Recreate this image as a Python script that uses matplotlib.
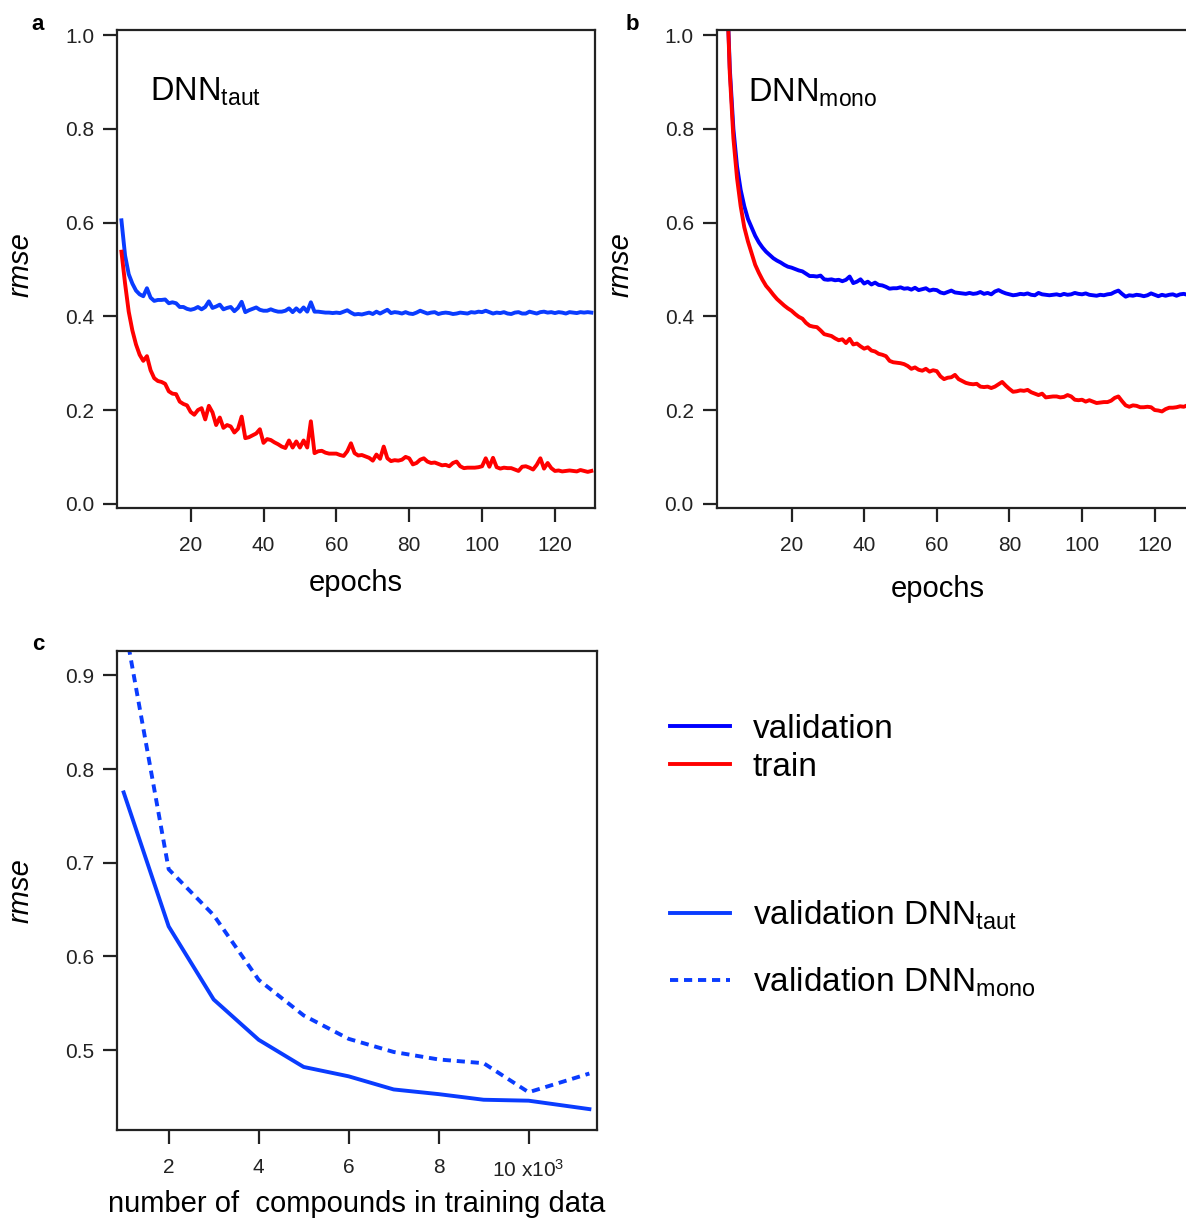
import numpy as np
import matplotlib
matplotlib.use("Agg")
import matplotlib.pyplot as plt
from matplotlib.lines import Line2D

plt.rcParams['font.family'] = ['Liberation Sans', 'DejaVu Sans']
plt.rcParams['mathtext.fontset'] = 'custom'
plt.rcParams['mathtext.rm'] = 'Liberation Sans'
plt.rcParams['mathtext.it'] = 'Liberation Sans:italic'

# ---- data ----
epochs_taut = np.arange(1, 131)
valid_taut = [0.605, 0.53, 0.49, 0.47, 0.455, 0.447, 0.443, 0.46, 0.44, 0.433,
              0.435, 0.435, 0.436, 0.428, 0.43, 0.428, 0.42, 0.42, 0.416, 0.414,
              0.416, 0.42, 0.415, 0.42, 0.432, 0.418, 0.421, 0.425, 0.415, 0.418,
              0.42, 0.411, 0.418, 0.431, 0.409, 0.413, 0.416, 0.419, 0.414, 0.412,
              0.412, 0.415, 0.412, 0.41, 0.41, 0.412, 0.417, 0.409, 0.417, 0.41,
              0.419, 0.41, 0.43, 0.41, 0.41, 0.409, 0.408, 0.408, 0.407, 0.408,
              0.407, 0.41, 0.413, 0.408, 0.404, 0.405, 0.404, 0.406, 0.408, 0.405,
              0.41, 0.406, 0.41, 0.414, 0.407, 0.409, 0.408, 0.406, 0.409, 0.406,
              0.405, 0.408, 0.412, 0.409, 0.406, 0.408, 0.409, 0.405, 0.407, 0.408,
              0.407, 0.405, 0.406, 0.408, 0.407, 0.406, 0.409, 0.408, 0.41, 0.409,
              0.412, 0.409, 0.406, 0.408, 0.407, 0.409, 0.406, 0.405, 0.408, 0.409,
              0.406, 0.406, 0.41, 0.408, 0.406, 0.409, 0.41, 0.408, 0.409, 0.407,
              0.409, 0.408, 0.406, 0.409, 0.408, 0.407, 0.409, 0.408, 0.409, 0.408]
train_taut = [0.538, 0.47, 0.41, 0.37, 0.34, 0.318, 0.305, 0.315, 0.285, 0.268,
              0.262, 0.26, 0.256, 0.24, 0.235, 0.234, 0.218, 0.213, 0.21, 0.196,
              0.19, 0.2, 0.204, 0.18, 0.209, 0.195, 0.168, 0.184, 0.162, 0.168,
              0.165, 0.152, 0.16, 0.186, 0.14, 0.142, 0.146, 0.15, 0.159, 0.13,
              0.138, 0.136, 0.131, 0.127, 0.122, 0.119, 0.135, 0.12, 0.133, 0.12,
              0.135, 0.12, 0.176, 0.108, 0.112, 0.113, 0.109, 0.107, 0.107, 0.107,
              0.104, 0.102, 0.112, 0.129, 0.108, 0.103, 0.104, 0.101, 0.098, 0.092,
              0.105, 0.096, 0.122, 0.097, 0.091, 0.093, 0.092, 0.094, 0.1, 0.097,
              0.084, 0.087, 0.094, 0.097, 0.09, 0.087, 0.088, 0.085, 0.082, 0.083,
              0.08, 0.087, 0.09, 0.08, 0.076, 0.077, 0.077, 0.077, 0.078, 0.08,
              0.097, 0.079, 0.098, 0.078, 0.075, 0.077, 0.076, 0.076, 0.073, 0.07,
              0.079, 0.08, 0.077, 0.073, 0.083, 0.097, 0.075, 0.087, 0.076, 0.07,
              0.071, 0.069, 0.07, 0.071, 0.07, 0.069, 0.072, 0.07, 0.068, 0.07]

epochs_mono = np.arange(2, 131)
valid_mono = [1.15, 0.93, 0.80, 0.72, 0.67, 0.635, 0.608, 0.59, 0.572,
              0.558, 0.547, 0.538, 0.531, 0.524, 0.519, 0.515, 0.51, 0.506, 0.504,
              0.501, 0.498, 0.496, 0.491, 0.486, 0.486, 0.485, 0.487, 0.479, 0.478,
              0.479, 0.477, 0.478, 0.475, 0.478, 0.485, 0.471, 0.474, 0.479, 0.47,
              0.474, 0.468, 0.472, 0.467, 0.466, 0.463, 0.459, 0.46, 0.46, 0.462,
              0.459, 0.46, 0.457, 0.461, 0.456, 0.458, 0.46, 0.455, 0.457, 0.456,
              0.451, 0.449, 0.452, 0.455, 0.451, 0.45, 0.449, 0.448, 0.45, 0.448,
              0.449, 0.452, 0.448, 0.45, 0.447, 0.453, 0.456, 0.452, 0.449, 0.447,
              0.445, 0.446, 0.448, 0.447, 0.449, 0.446, 0.445, 0.45, 0.447, 0.446,
              0.445, 0.446, 0.447, 0.445, 0.448, 0.446, 0.447, 0.45, 0.448, 0.447,
              0.449, 0.446, 0.445, 0.444, 0.446, 0.445, 0.447, 0.448, 0.452, 0.455,
              0.448, 0.442, 0.445, 0.444, 0.446, 0.445, 0.443, 0.445, 0.449, 0.446,
              0.443, 0.446, 0.444, 0.446, 0.447, 0.444, 0.447, 0.448, 0.446, 0.447]
train_mono = [1.15, 0.92, 0.78, 0.695, 0.635, 0.59, 0.56, 0.535, 0.51,
              0.493, 0.478, 0.465, 0.456, 0.446, 0.437, 0.43, 0.423, 0.417, 0.412,
              0.405, 0.399, 0.395, 0.386, 0.38, 0.378, 0.377, 0.37, 0.362, 0.36,
              0.358, 0.353, 0.349, 0.351, 0.343, 0.352, 0.34, 0.342, 0.336, 0.331,
              0.334, 0.327, 0.325, 0.32, 0.318, 0.315, 0.305, 0.302, 0.301, 0.3,
              0.298, 0.294, 0.288, 0.291, 0.286, 0.284, 0.288, 0.282, 0.285, 0.283,
              0.272, 0.266, 0.269, 0.27, 0.275, 0.266, 0.262, 0.258, 0.256, 0.255,
              0.256, 0.25, 0.249, 0.25, 0.247, 0.25, 0.255, 0.26, 0.252, 0.245,
              0.239, 0.24, 0.242, 0.241, 0.243, 0.238, 0.235, 0.232, 0.235, 0.227,
              0.228, 0.229, 0.229, 0.227, 0.228, 0.232, 0.229, 0.222, 0.221, 0.222,
              0.218, 0.221, 0.218, 0.215, 0.216, 0.217, 0.217, 0.22, 0.226, 0.229,
              0.219, 0.21, 0.207, 0.21, 0.209, 0.206, 0.206, 0.207, 0.206, 0.2,
              0.199, 0.197, 0.202, 0.205, 0.205, 0.206, 0.208, 0.207, 0.21, 0.212]

n_compounds = [1, 2, 3, 4, 5, 6, 7, 8, 9, 10, 11.35]
valid_taut_size = [0.775, 0.632, 0.554, 0.511, 0.482, 0.472, 0.458, 0.453, 0.447, 0.446, 0.437]
valid_mono_size = [0.96, 0.693, 0.644, 0.575, 0.537, 0.512, 0.498, 0.490, 0.486, 0.455, 0.475]

size_ticks = [2, 4, 6, 8, 10]
size_ticklabels = ['2', '4', '6', '8', r'10 x10$^{3}$']

BLUE_A = '#0a3cff'
BLUE_B = '#0000ff'
RED = '#ff0000'
LW = 2.8
TICKSIZE = 15
LABELSIZE = 21
DASH = (0, (2.1, 1.5))


def style_axes(ax):
    for sp in ax.spines.values():
        sp.set_linewidth(1.6)
        sp.set_color('#222222')
    ax.tick_params(direction='out', length=10, width=1.6,
                   labelsize=TICKSIZE, colors='#222222', top=False, right=False)
    ax.tick_params(axis='x', pad=10.5)
    ax.tick_params(axis='y', pad=6.5)


fig = plt.figure(figsize=(11.86, 12.19), dpi=100)

# panel a
ax_a = fig.add_axes([0.0987, 0.5833, 0.403, 0.392])
ax_a.plot(epochs_taut, valid_taut, color=BLUE_A, lw=LW)
ax_a.plot(epochs_taut, train_taut, color=RED, lw=LW)
ax_a.set_xlim(-0.2, 131)
ax_a.set_ylim(-0.009, 1.011)
ax_a.set_xticks([20, 40, 60, 80, 100, 120])
ax_a.set_yticks([0.0, 0.2, 0.4, 0.6, 0.8, 1.0])
ax_a.set_yticklabels(['0.0', '0.2', '0.4', '0.6', '0.8', '1.0'])
style_axes(ax_a)
ax_a.set_xlabel('epochs', fontsize=LABELSIZE)
ax_a.set_ylabel('rmse', fontsize=LABELSIZE, style='italic')
ax_a.yaxis.set_label_coords(-0.172, 0.51)
ax_a.xaxis.set_label_coords(0.5, -0.128)
ax_a.text(0.069, 0.853, r'DNN$_{\mathrm{taut}}$', transform=ax_a.transAxes,
          fontsize=23.5, va='baseline')

# panel b
ax_b = fig.add_axes([0.6043, 0.5833, 0.403, 0.392])
ax_b.plot(epochs_mono, valid_mono, color=BLUE_B, lw=LW)
ax_b.plot(epochs_mono, train_mono, color=RED, lw=LW)
ax_b.set_xlim(-0.6, 131)
ax_b.set_ylim(-0.009, 1.011)
ax_b.set_xticks([20, 40, 60, 80, 100, 120])
ax_b.set_yticks([0.0, 0.2, 0.4, 0.6, 0.8, 1.0])
ax_b.set_yticklabels(['0.0', '0.2', '0.4', '0.6', '0.8', '1.0'])
style_axes(ax_b)
ax_b.set_xlabel('epochs', fontsize=LABELSIZE)
ax_b.set_ylabel('rmse', fontsize=LABELSIZE, style='italic')
ax_b.yaxis.set_label_coords(-0.172, 0.51)
ax_b.xaxis.set_label_coords(0.463, -0.141)
ax_b.text(0.066, 0.851, r'DNN$_{\mathrm{mono}}$', transform=ax_b.transAxes,
          fontsize=23.5, va='baseline')

# panel c
ax_c = fig.add_axes([0.0987, 0.073, 0.4047, 0.393])
ax_c.plot(n_compounds, valid_taut_size, color=BLUE_A, lw=LW)
ax_c.plot(n_compounds, valid_mono_size, color=BLUE_A, lw=LW, ls=DASH)
ax_c.set_xlim(0.853, 11.52)
ax_c.set_ylim(0.4147, 0.926)
ax_c.set_xticks(size_ticks)
ax_c.set_xticklabels(size_ticklabels)
ax_c.set_yticks([0.5, 0.6, 0.7, 0.8, 0.9])
style_axes(ax_c)
ax_c.set_xlabel('number of  compounds in training data', fontsize=LABELSIZE)
ax_c.set_ylabel('rmse', fontsize=LABELSIZE, style='italic')
ax_c.yaxis.set_label_coords(-0.172, 0.5)
ax_c.xaxis.set_label_coords(0.5, -0.125)

# panel letters
fig.text(38 / 1186, 1 - 25 / 1219, 'a', fontsize=16, fontweight='bold', ha='center', va='center')
fig.text(632 / 1186, 1 - 25 / 1219, 'b', fontsize=16, fontweight='bold', ha='center', va='center')
fig.text(38 / 1186, 1 - 645 / 1219, 'c', fontsize=16, fontweight='bold', ha='center', va='center')

# legends
h1 = [Line2D([], [], color=BLUE_B, lw=LW), Line2D([], [], color=RED, lw=LW)]
fig.legend(h1, ['validation', 'train'], loc='upper left',
           bbox_to_anchor=(670 / 1186, 1 - 714 / 1219), frameon=False,
           fontsize=24, handlelength=1.8, handletextpad=0.68, labelspacing=0.2,
           borderpad=0, borderaxespad=0)
h2 = [Line2D([], [], color=BLUE_A, lw=LW),
      Line2D([], [], color=BLUE_A, lw=LW, ls=DASH)]
fig.legend(h2, [r'validation DNN$_{\mathrm{taut}}$', r'validation DNN$_{\mathrm{mono}}$'],
           loc='upper left', bbox_to_anchor=(670 / 1186, 1 - 899 / 1219), frameon=False,
           fontsize=24, handlelength=1.8, handletextpad=0.68, labelspacing=1.0,
           borderpad=0, borderaxespad=0)

fig.savefig('out.png', dpi=100)
